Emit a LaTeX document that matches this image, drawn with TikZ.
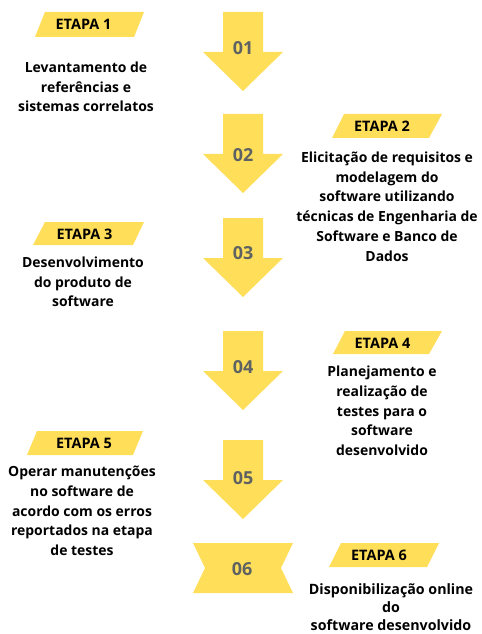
\documentclass[tikz,border=0pt]{standalone}
\usepackage{fontspec}
\setmainfont{Open Sans}
\definecolor{ylw}{HTML}{FFDE59}
\definecolor{dgt}{HTML}{5E6262}
\tikzset{
  desc/.style={align=center, font=\bfseries\fontsize{14}{19.8}\selectfont, text=black, inner sep=0pt},
  tagtext/.style={font=\bfseries\fontsize{14.5}{16}\selectfont, text=black, inner sep=0pt},
  num/.style={font=\bfseries\fontsize{18}{20}\selectfont, text=dgt, inner sep=0pt},
  pics/downarrow/.style={code={\fill[ylw] (-20,0) -- (20,0) -- (20,40) -- (40,40) -- (0,79) -- (-40,40) -- (-20,40) -- cycle;}},
}
\begin{document}
\begin{tikzpicture}[x=1bp,y=-1bp]
\useasboundingbox (0,0) rectangle (482,634);
% arrows
\pic at (243,12) {downarrow};
\pic at (243,114) {downarrow};
\pic at (243,218) {downarrow};
\pic at (243,331) {downarrow};
\pic at (243,440) {downarrow};
\fill[ylw] (193,543) -- (293,543) -- (281,568) -- (293,593) -- (193,593) -- (205,568) -- cycle;
\node[num] (n1) at (243,48) {01};
\node[num] (n2) at (243,155) {02};
\node[num] (n3) at (243,253) {03};
\node[num] (n4) at (243,367) {04};
\node[num] (n5) at (243,478) {05};
\node[num] (n6) at (242,569) {06};
% banners
\fill[ylw] (45,12) -- (144,12) -- (134,37) -- (35,37) -- cycle;
\fill[ylw] (344,114) -- (442,114) -- (429,138) -- (332,138) -- cycle;
\fill[ylw] (45,222) -- (144,222) -- (133,245) -- (33,245) -- cycle;
\fill[ylw] (345,331) -- (442,331) -- (429,354) -- (333,354) -- cycle;
\fill[ylw] (37,431) -- (143,431) -- (133,455) -- (27,455) -- cycle;
\fill[ylw] (341,543) -- (439,543) -- (427,567) -- (329,567) -- cycle;
\node[tagtext] (e1) at (83.5,24) {ETAPA 1};
\node[tagtext] (e2) at (382,126) {ETAPA 2};
\node[tagtext] (e3) at (84.5,234) {ETAPA 3};
\node[tagtext] (e4) at (382.5,343) {ETAPA 4};
\node[tagtext] (e5) at (84,443) {ETAPA 5};
\node[tagtext] (e6) at (379,555) {ETAPA 6};
% descriptions
\node[desc] (d1) at (86,87) {Levantamento de\\referências e\\sistemas correlatos};
\node[desc] (d2) at (387,206.5) {Elicitação de requisitos e\\modelagem do\\software utilizando\\técnicas de Engenharia de\\Software e Banco de\\Dados};
\node[desc] (d3) at (83,282) {Desenvolvimento\\do produto de\\software};
\node[desc] (d4) at (382,411) {Planejamento e\\realização de\\testes para o\\software\\desenvolvido};
\node[desc] (d5) at (82,511) {Operar manutenções\\no software de\\acordo com os erros\\reportados na etapa\\de testes};
\node[desc,font=\bfseries\fontsize{14.3}{18}\selectfont] (d6) at (391,607.5) {Disponibilização online\\do\\software desenvolvido};
\end{tikzpicture}
\end{document}
